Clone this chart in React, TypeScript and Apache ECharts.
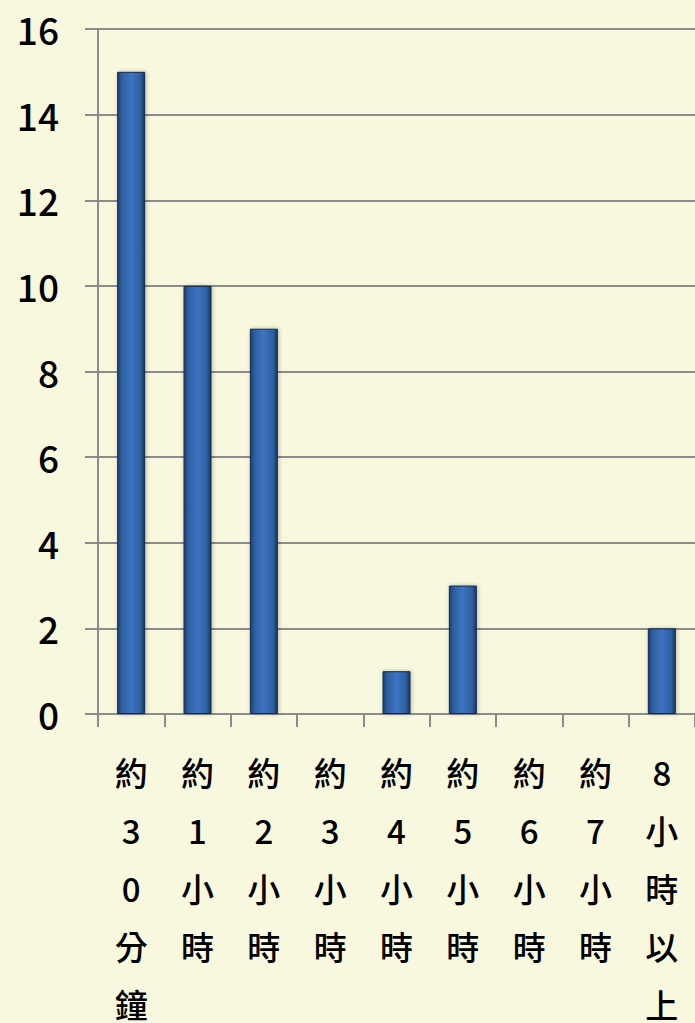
import React, { useEffect, useRef } from "react";
import * as echarts from "echarts";

const categories = ["約30分鐘", "約1小時", "約2小時", "約3小時", "約4小時", "約5小時", "約6小時", "約7小時", "8小時以上"];
const values = [15, 10, 9, 0, 1, 3, 0, 0, 2];
const yTicks = [0, 2, 4, 6, 8, 10, 12, 14, 16];

export default function App() {
  const ref = useRef<HTMLDivElement>(null);
  useEffect(() => {
    const chart = echarts.init(ref.current!, null, { renderer: "svg" });
    const font = "'Noto Sans CJK TC', 'Noto Sans', sans-serif";
    chart.setOption({
      animation: false,
      backgroundColor: "#F8F8DF",
      grid: { left: 98, right: 0, top: 29, bottom: 309, containLabel: false, outerBoundsMode: "none" },
      xAxis: {
        type: "category",
        data: categories,
        boundaryGap: true,
        axisLine: { show: true, lineStyle: { color: "#8C8C8C", width: 2 } },
        axisTick: { show: true, length: 13, lineStyle: { color: "#8C8C8C", width: 2 }, alignWithLabel: false },
        axisLabel: {
          interval: 0,
          margin: 29,
          color: "#000",
          fontSize: 33,
          fontWeight: 500,
          fontFamily: font,
          lineHeight: 58,
          verticalAlign: "top",
          formatter: (v: string) => v.split("").join("\n"),
        },
      },
      yAxis: {
        type: "value",
        min: 0,
        max: 16,
        interval: 2,
        axisLine: { show: true, lineStyle: { color: "#8C8C8C", width: 2 } },
        axisTick: { show: true, length: 13, inside: false, lineStyle: { color: "#8C8C8C", width: 2 } },
        splitLine: { show: true, lineStyle: { color: "#8C8C8C", width: 2 } },
        axisLabel: {
          margin: 39,
          color: "#000",
          fontSize: 37,
          fontWeight: 500,
          fontFamily: font,
          formatter: (v: number) => (yTicks.includes(v) ? String(v) : ""),
        },
      },
      series: [
        {
          type: "bar",
          data: values,
          barWidth: 28,
          itemStyle: {
            color: new echarts.graphic.LinearGradient(0, 0, 1, 0, [
              { offset: 0, color: "#1E3E6E" },
              { offset: 0.15, color: "#2E5E9F" },
              { offset: 0.5, color: "#3C74C2" },
              { offset: 0.85, color: "#2E5E9F" },
              { offset: 1, color: "#1A3560" },
            ]),
            borderColor: "#16294A",
            borderWidth: 1,
            shadowColor: "rgba(0,0,0,0.25)",
            shadowBlur: 4,
            shadowOffsetX: 1,
          },
        },
      ],
    });
    return () => chart.dispose();
  }, []);
  return <div ref={ref} style={{ width: 695, height: 1023, position: "absolute", left: 0, top: 0 }} />;
}
